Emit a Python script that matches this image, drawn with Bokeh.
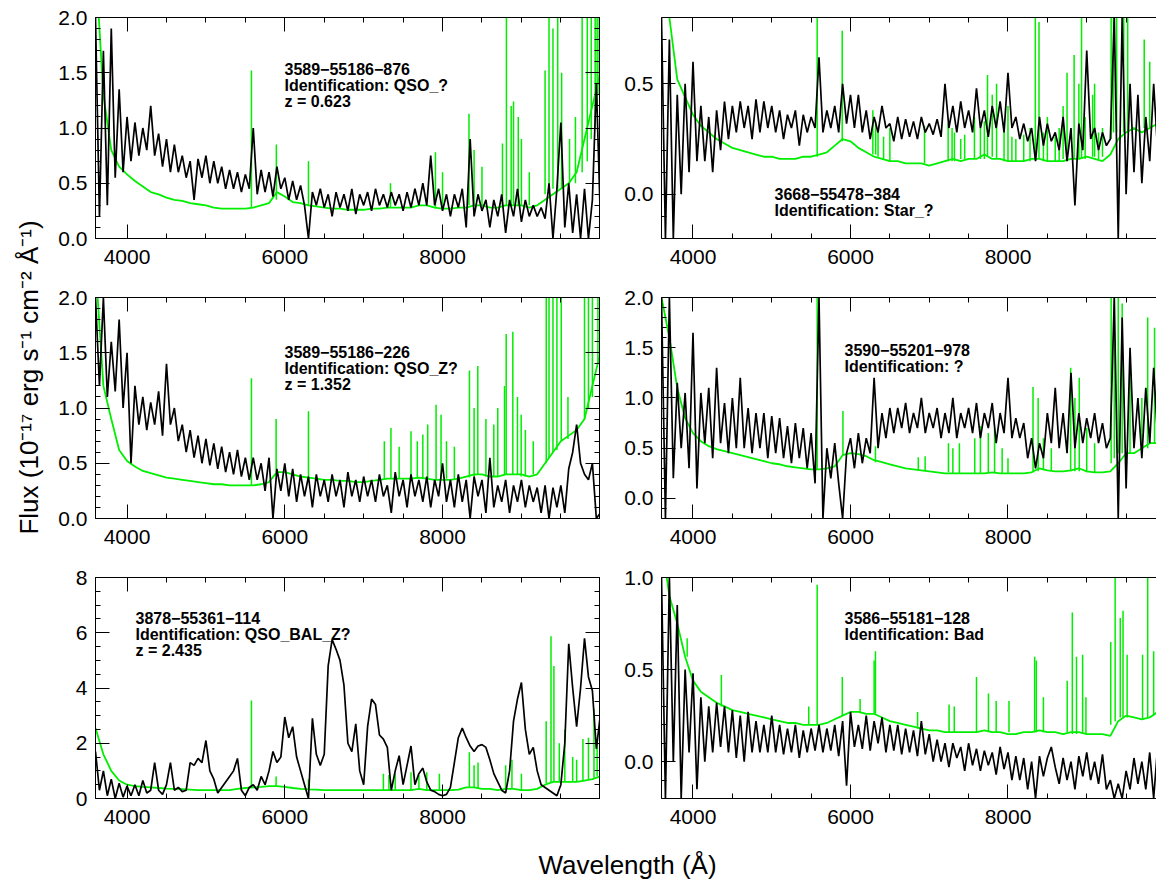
import math
import numpy as np
from bokeh.plotting import figure
from bokeh.models import FixedTicker, LinearAxis, Label, Range1d, PrintfTickFormatter
from bokeh.layouts import row, column
from bokeh.embed import file_html
from bokeh.resources import INLINE

# ---------------- data ----------------
wave = list(range(3600, 10001, 50))       # object spectrum sampling (A)
wave_sky = list(range(3600, 10001, 100))  # sky/noise continuum sampling (A)

x_ticks = [4000, 6000, 8000]
x_tick_labels = ["4000", "6000", "8000"]
x_minor = [4500, 5000, 5500, 6500, 7000, 7500, 8500, 9000, 9500]

# ---- panel 1: 3589-55186-876 ----
tl_flux = [2.0, 0.2, 1.7, 0.3, 1.9, 0.55, 1.35, 0.6, 1.1, 0.7,
           1.05, 0.75, 1.0, 0.8, 1.2, 0.75, 0.95, 0.65, 0.9, 0.6,
           0.85, 0.6, 0.75, 0.55, 0.7, 0.35, 0.72, 0.55, 0.75, 0.5,
           0.7, 0.5, 0.65, 0.45, 0.62, 0.45, 0.6, 0.42, 0.58, 0.45,
           1.0, 0.4, 0.62, 0.42, 0.6, 0.38, 0.65, 0.45, 0.55, 0.35,
           0.52, 0.35, 0.48, 0.3, 0.0, 0.42, 0.3, 0.45, 0.28, 0.4,
           0.2, 0.42, 0.28, 0.4, 0.25, 0.45, 0.22, 0.4, 0.3, 0.42,
           0.25, 0.45, 0.3, 0.4, 0.28, 0.42, 0.3, 0.4, 0.25, 0.42,
           0.28, 0.45, 0.3, 0.5, 0.3, 0.75, 0.3, 0.45, 0.25, 0.4,
           0.2, 0.4, 0.28, 0.45, 0.1, 0.9, 0.2, 0.4, 0.25, 0.35,
           0.1, 0.35, 0.2, 0.4, 0.05, 0.35, 0.2, 0.45, 0.15, 0.35,
           0.2, 0.3, 0.2, 0.28, 0.18, 0.5, 0.0, 0.45, 1.05, 0.1,
           0.5, 0.05, 0.4, 0.0, 0.45, 0.0, 0.35, 1.4, 0.2]
tl_sky = [2.5, 1.3, 0.8, 0.65, 0.58, 0.52, 0.47, 0.42, 0.4, 0.37,
          0.35, 0.34, 0.32, 0.31, 0.3, 0.28, 0.27, 0.27, 0.27, 0.27,
          0.28, 0.3, 0.32, 0.42, 0.38, 0.33, 0.32, 0.3, 0.29, 0.28,
          0.27, 0.27, 0.26, 0.26, 0.26, 0.27, 0.27, 0.28, 0.28, 0.28,
          0.28, 0.3, 0.3, 0.28, 0.27, 0.27, 0.28, 0.28, 0.3, 0.3,
          0.28, 0.28, 0.3, 0.3, 0.3, 0.28, 0.3, 0.35, 0.4, 0.45,
          0.5, 0.6, 0.9, 1.2, 1.5]
tl_line_w = [5577, 5893, 6300, 7340, 7910, 8000, 8335, 8400, 8500, 8760,
             8810, 8870, 8900, 8960, 9000, 9100, 9300, 9350, 9400, 9460,
             9510, 9610, 9685, 9770, 9835, 9885, 9935, 9960, 9985]
tl_line_lo = [0.28, 0.35, 0.30, 0.28, 0.28, 0.27, 0.3, 0.3, 0.3, 0.3,
              0.3, 0.3, 0.3, 0.3, 0.3, 0.3, 0.4, 0.45, 0.45, 0.45,
              0.45, 0.5, 0.5, 0.6, 0.7, 0.9, 1.0, 1.2, 1.3]
tl_line_hi = [1.52, 0.85, 0.70, 0.5, 0.78, 0.6, 1.13, 0.8, 0.65, 0.86,
              2.0, 1.2, 1.24, 1.1, 0.9, 0.6, 1.52, 2.0, 1.9, 2.0,
              1.5, 0.9, 1.1, 2.0, 2.0, 2.0, 2.0, 2.0, 2.0]

# ---- panel 2: 3668-55478-384 ----
tr_flux = [0.8, -0.2, 0.7, -0.2, 0.45, 0.0, 0.5, 0.1, 0.6, 0.15,
           0.4, 0.15, 0.35, 0.1, 0.38, 0.2, 0.42, 0.25, 0.4, 0.28,
           0.42, 0.3, 0.4, 0.25, 0.43, 0.28, 0.42, 0.3, 0.4, 0.28,
           0.38, 0.25, 0.36, 0.3, 0.38, 0.22, 0.36, 0.28, 0.35, 0.3,
           0.62, 0.28, 0.38, 0.3, 0.4, 0.28, 0.5, 0.32, 0.45, 0.3,
           0.45, 0.28, 0.38, 0.25, 0.35, 0.28, 0.4, 0.3, 0.32, 0.24,
           0.35, 0.25, 0.34, 0.26, 0.33, 0.25, 0.35, 0.28, 0.32, 0.27,
           0.34, 0.26, 0.5, 0.3, 0.4, 0.28, 0.42, 0.3, 0.38, 0.28,
           0.48, 0.3, 0.38, 0.26, 0.4, 0.3, 0.42, 0.28, 0.55, 0.3,
           0.35, 0.25, 0.32, 0.24, 0.3, 0.15, 0.35, 0.22, 0.32, 0.24,
           0.28, 0.2, 0.35, 0.15, 0.3, -0.05, 0.32, 0.2, 0.65, 0.25,
           0.3, 0.2, 0.28, 0.22, 0.25, 0.8, -0.2, 0.8, 0.0, 0.5,
           0.1, 0.45, 0.05, 0.35, 0.15, 0.5, 0.2, 0.6, 0.3]
tr_sky = [0.95, 0.8, 0.52, 0.44, 0.36, 0.31, 0.28, 0.25, 0.23, 0.21,
          0.2, 0.19, 0.18, 0.17, 0.17, 0.16, 0.16, 0.16, 0.17, 0.17,
          0.18, 0.19, 0.22, 0.25, 0.24, 0.21, 0.19, 0.17, 0.16, 0.15,
          0.15, 0.14, 0.14, 0.14, 0.13, 0.14, 0.15, 0.16, 0.15, 0.16,
          0.16, 0.18, 0.16, 0.16, 0.15, 0.15, 0.15, 0.16, 0.16, 0.15,
          0.15, 0.15, 0.16, 0.16, 0.17, 0.16, 0.15, 0.18, 0.25, 0.28,
          0.3, 0.28, 0.3, 0.32, 0.35]
tr_line_w = [5577, 5895, 6284, 6320, 6500, 6940, 7240, 7290, 7574, 7740,
             7800, 7855, 8000, 8347, 8394, 8500, 8750, 8840, 8934, 9075,
             9100, 9310, 9340, 9380, 9470, 9520, 9730, 9800,
             6350, 6420, 7320, 7400, 7450, 7650, 7700, 7950, 8050, 8100,
             8200, 8280, 8450, 8600, 8650, 8700, 8900, 8980, 9150, 9200]
tr_line_lo = [0.17, 0.24, 0.18, 0.18, 0.15, 0.14, 0.15, 0.15, 0.16, 0.17,
              0.17, 0.16, 0.15, 0.16, 0.16, 0.15, 0.16, 0.16, 0.16, 0.17,
              0.17, 0.25, 0.28, 0.28, 0.28, 0.28, 0.3, 0.3,
              0.17, 0.16, 0.15, 0.16, 0.16, 0.16, 0.16, 0.15, 0.15, 0.15,
              0.15, 0.15, 0.15, 0.15, 0.15, 0.16, 0.16, 0.16, 0.16, 0.17]
tr_line_hi = [0.85, 0.74, 0.38, 0.33, 0.3, 0.31, 0.32, 0.3, 0.35, 0.54,
              0.45, 0.5, 0.4, 0.8, 0.78, 0.35, 0.55, 0.63, 0.85, 0.45,
              0.5, 0.85, 0.85, 0.85, 0.85, 0.8, 0.7, 0.6,
              0.3, 0.26, 0.28, 0.25, 0.27, 0.3, 0.33, 0.3, 0.26, 0.25,
              0.27, 0.3, 0.28, 0.26, 0.3, 0.4, 0.5, 0.35, 0.28, 0.3]

# ---- panel 3: 3589-55186-226 ----
ml_flux = [2.0, 1.2, 2.0, 1.1, 1.6, 1.15, 1.8, 1.0, 1.5, 0.5,
           1.2, 0.85, 1.1, 0.8, 1.05, 0.85, 1.15, 0.75, 1.4, 0.85,
           1.0, 0.7, 0.85, 0.6, 0.8, 0.55, 0.75, 0.5, 0.72, 0.48,
           0.68, 0.45, 0.65, 0.42, 0.6, 0.4, 0.62, 0.38, 0.55, 0.35,
           0.55, 0.35, 0.5, 0.25, 0.55, 0.0, 0.45, 0.25, 0.5, 0.2,
           0.45, 0.15, 0.4, 0.2, 0.38, 0.1, 0.4, 0.2, 0.35, 0.15,
           0.4, 0.2, 0.35, 0.1, 0.42, 0.2, 0.35, 0.15, 0.38, 0.2,
           0.35, 0.15, 0.4, 0.2, 0.3, 0.05, 0.42, 0.2, 0.35, 0.1,
           0.4, 0.2, 0.35, 0.15, 0.38, 0.1, 0.35, 0.2, 0.5, 0.15,
           0.35, 0.1, 0.4, 0.15, 0.35, 0.0, 0.38, 0.2, 0.35, 0.05,
           0.55, 0.1, 0.3, 0.15, 0.35, 0.05, 0.3, 0.15, 0.35, 0.1,
           0.3, 0.15, 0.28, 0.05, 0.3, 0.0, 0.28, 0.1, 0.3, 0.05,
           0.45, 0.6, 0.85, 0.5, 0.4, 0.35, 0.5, 0.0, 0.05]
ml_sky = [2.3, 1.2, 0.9, 0.62, 0.52, 0.47, 0.43, 0.41, 0.39, 0.37,
          0.36, 0.35, 0.34, 0.33, 0.32, 0.31, 0.31, 0.3, 0.3, 0.3,
          0.3, 0.31, 0.33, 0.42, 0.42, 0.4, 0.38, 0.37, 0.36, 0.35,
          0.35, 0.34, 0.34, 0.33, 0.33, 0.34, 0.35, 0.36, 0.36, 0.36,
          0.36, 0.37, 0.36, 0.35, 0.35, 0.35, 0.36, 0.38, 0.4, 0.4,
          0.38, 0.38, 0.4, 0.4, 0.4, 0.38, 0.4, 0.5, 0.6, 0.7,
          0.75, 0.8, 0.9, 1.2, 1.5]
ml_line_w = [5577, 5890, 6300, 7262, 7346, 7600, 7750, 7812, 7918, 7981,
             8341, 8400, 8447, 8786, 8807, 8891, 8997, 9315, 9350, 9400,
             9450, 9505, 9590, 9800, 9850, 9900, 9970,
             7450, 7680, 8050, 8150, 8550, 8650, 8700, 8950, 9050, 9150]
ml_line_lo = [0.3, 0.42, 0.38, 0.36, 0.36, 0.36, 0.36, 0.36, 0.35, 0.35,
              0.37, 0.38, 0.4, 0.4, 0.4, 0.4, 0.38, 0.5, 0.55, 0.6,
              0.62, 0.7, 0.72, 0.9, 1.0, 1.1, 1.4,
              0.36, 0.36, 0.36, 0.36, 0.38, 0.38, 0.38, 0.4, 0.38, 0.4]
ml_line_hi = [1.27, 0.9, 0.97, 0.7, 0.82, 0.79, 0.76, 0.85, 1.03, 0.94,
              1.34, 1.0, 1.38, 1.2, 1.67, 1.69, 0.94, 2.0, 2.0, 2.0,
              2.0, 2.0, 1.1, 2.0, 2.0, 2.0, 2.0,
              0.65, 0.7, 0.7, 0.65, 0.9, 0.85, 1.0, 1.1, 0.8, 0.7]

# ---- panel 4: 3590-55201-978 ----
mr_flux = [2.0, -0.2, 2.0, 0.2, 1.15, 0.5, 1.05, 0.3, 1.65, 0.1,
           1.05, 0.55, 1.1, 0.4, 1.3, 0.55, 0.95, 0.45, 1.0, 0.5,
           1.2, 0.5, 0.9, 0.45, 0.85, 0.5, 0.85, 0.4, 0.82, 0.45,
           0.8, 0.4, 0.72, 0.35, 0.75, 0.4, 0.7, 0.3, 0.65, 0.15,
           2.0, -0.2, 0.5, 0.2, 0.55, 0.15, -0.2, 0.45, 0.6, 0.3,
           0.65, 0.35, 0.6, 0.45, 1.2, 0.5, 0.85, 0.6, 0.9, 0.65,
           0.9, 0.7, 0.95, 0.65, 0.85, 0.7, 1.0, 0.65, 0.85, 0.7,
           0.9, 0.6, 0.85, 0.65, 1.0, 0.6, 0.85, 0.7, 0.9, 0.65,
           0.95, 0.6, 0.85, 0.7, 0.95, 0.55, 0.85, 0.65, 1.2, 0.6,
           0.8, 0.6, 0.75, 0.4, 0.6, 0.3, 0.55, 0.4, 0.85, 0.55,
           1.1, 0.5, 0.85, 0.45, 1.25, 0.5, 0.85, 0.55, 0.8, 0.6,
           0.85, 0.55, 0.75, 0.5, 0.6, 2.0, -0.2, 1.8, 0.1, 1.5,
           0.5, 1.0, 0.4, 1.1, 0.55, 1.3, 0.6, 1.2, 0.7]
mr_sky = [2.0, 1.6, 1.1, 0.8, 0.65, 0.57, 0.52, 0.49, 0.47, 0.45,
          0.43, 0.41, 0.39, 0.37, 0.35, 0.34, 0.32, 0.31, 0.3, 0.29,
          0.29, 0.3, 0.32, 0.43, 0.45, 0.44, 0.42, 0.38, 0.36, 0.34,
          0.32, 0.3, 0.29, 0.28, 0.27, 0.26, 0.25, 0.25, 0.25, 0.25,
          0.25, 0.25, 0.26, 0.25, 0.25, 0.25, 0.25, 0.26, 0.3, 0.28,
          0.27, 0.27, 0.28, 0.3, 0.27, 0.26, 0.26, 0.27, 0.35, 0.45,
          0.45, 0.5, 0.55, 0.55, 0.6]
mr_line_w = [5577, 5904, 6317, 6861, 6948, 7244, 7300, 7383, 7578, 7650,
             7750, 7830, 7926, 8000, 8318, 8383, 8450, 8550, 8796, 8850,
             8905, 9000, 9100, 9310, 9350, 9400, 9450, 9550, 9700, 9774, 9861]
mr_line_lo = [0.29, 0.43, 0.36, 0.28, 0.28, 0.26, 0.25, 0.25, 0.25, 0.25,
              0.25, 0.25, 0.25, 0.25, 0.26, 0.27, 0.28, 0.28, 0.27, 0.27,
              0.27, 0.26, 0.26, 0.35, 0.4, 0.45, 0.45, 0.45, 0.5, 0.5, 0.55]
mr_line_hi = [2.0, 0.87, 0.52, 0.41, 0.42, 0.55, 0.5, 0.55, 0.6, 0.72,
              0.65, 0.7, 0.5, 0.4, 1.11, 1.0, 0.6, 0.5, 1.3, 1.0,
              1.2, 0.7, 0.55, 2.0, 2.0, 2.0, 1.94, 1.4, 1.0, 1.8, 1.7]

# ---- panel 5: 3878-55361-114 ----
bl_flux = [1.7, 0.3, 1.0, 0.1, 0.7, 0.0, 0.55, 0.05, 0.45, 0.1,
           0.5, 0.1, 0.65, 0.2, 0.3, 1.3, 0.3, 0.15, 0.5, 1.3,
           0.3, 0.4, 0.25, 0.3, 1.3, 1.2, 1.45, 1.3, 2.1, 1.0,
           0.7, 0.2, 0.4, 0.6, 0.8, 1.0, 1.45, 0.3, 0.1, 0.4,
           0.5, 0.3, 0.8, 0.5, 1.0, 1.7, 1.3, 1.5, 2.95, 2.2,
           2.6, 1.5, 1.0, 0.5, 0.0, 2.9, 1.6, 1.2, 1.6, 4.8,
           5.75, 5.4, 5.0, 4.1, 2.0, 1.7, 2.7, 1.0, 0.5, 2.6,
           3.6, 3.4, 2.3, 2.15, 1.85, 0.3, 1.0, 1.55, 0.5, 1.2,
           1.9, 0.5, 0.9, 1.1, 0.6, 0.3, 0.25, 0.15, 0.1, 0.15,
           0.4, 1.3, 2.2, 2.55, 2.2, 1.9, 1.7, 1.9, 1.95, 1.85,
           1.4, 0.9, 0.6, 0.3, 0.2, 1.0, 2.8, 3.6, 4.2, 2.5,
           1.6, 1.85, 1.0, 0.5, 0.4, 0.3, 0.2, 0.1, 0.5, 2.0,
           5.6, 4.0, 2.6, 4.0, 5.8, 4.4, 3.9, 1.8, 3.0]
bl_sky = [2.55, 1.6, 1.0, 0.65, 0.5, 0.45, 0.42, 0.4, 0.38, 0.36,
          0.35, 0.34, 0.32, 0.3, 0.3, 0.3, 0.3, 0.3, 0.35, 0.38,
          0.4, 0.42, 0.45, 0.45, 0.42, 0.38, 0.35, 0.33, 0.32, 0.3,
          0.3, 0.3, 0.3, 0.3, 0.3, 0.3, 0.3, 0.3, 0.3, 0.3,
          0.3, 0.35, 0.3, 0.3, 0.3, 0.3, 0.32, 0.4, 0.4, 0.35,
          0.35, 0.3, 0.35, 0.35, 0.3, 0.3, 0.35, 0.5, 0.6, 0.6,
          0.6, 0.6, 0.65, 0.7, 0.8]
bl_line_w = [5577, 5890, 6300, 7250, 7320, 7400, 7600, 7700, 7800, 7960,
             8340, 8400, 8450, 8800, 8880, 9000, 9314, 9375, 9412, 9480,
             9550, 9650, 9700, 9780, 9850, 9920, 9960]
bl_line_lo = [0.4, 0.45, 0.33, 0.3, 0.3, 0.3, 0.3, 0.35, 0.3, 0.3,
              0.4, 0.4, 0.38, 0.35, 0.35, 0.3, 0.55, 0.58, 0.6, 0.6,
              0.6, 0.6, 0.62, 0.65, 0.7, 0.75, 0.8]
bl_line_hi = [3.55, 0.8, 0.7, 0.9, 0.85, 0.9, 0.95, 0.85, 0.95, 0.9,
              1.67, 1.2, 1.3, 1.2, 1.4, 0.9, 2.8, 5.87, 4.8, 2.0,
              2.5, 1.5, 1.4, 2.15, 2.2, 3.25, 2.0]

# ---- panel 6: 3586-55181-128 ----
br_flux = [1.0, -0.2, 1.0, 0.0, 0.85, -0.2, 0.5, 0.05, 0.48, -0.15,
           0.35, 0.0, 0.3, 0.05, 0.32, 0.08, 0.3, 0.05, 0.28, 0.02,
           0.25, 0.0, 0.27, 0.05, 0.22, 0.05, 0.2, 0.05, 0.25, 0.05,
           0.2, 0.04, 0.18, 0.05, 0.2, 0.02, 0.17, 0.05, 0.18, 0.06,
           0.2, 0.05, 0.18, 0.06, 0.2, 0.03, 0.22, -0.13, 0.27, 0.08,
           0.2, 0.07, 0.25, 0.06, 0.22, 0.1, 0.24, 0.05, 0.2, 0.06,
           0.2, 0.04, 0.18, 0.05, 0.17, 0.03, 0.22, 0.04, 0.15, 0.0,
           0.12, 0.0, 0.1, -0.03, 0.1, 0.02, 0.08, -0.05, 0.1, -0.02,
           0.07, -0.05, 0.06, -0.02, 0.05, -0.07, 0.08, -0.04, 0.05, -0.1,
           0.03, -0.1, 0.02, -0.15, 0.0, -0.2, 0.03, -0.08, 0.02, 0.08,
           -0.03, -0.12, 0.02, -0.1, 0.0, -0.15, 0.03, -0.08, 0.05, -0.1,
           0.0, -0.12, 0.04, -0.15, -0.1, -0.2, -0.12, -0.2, -0.05, -0.15,
           0.02, -0.12, 0.0, -0.15, 0.05, -0.2, 0.08, -0.1, 0.0]
br_sky = [1.2, 0.9, 0.75, 0.57, 0.44, 0.38, 0.35, 0.32, 0.3, 0.28,
          0.27, 0.26, 0.25, 0.24, 0.23, 0.22, 0.21, 0.21, 0.2, 0.2,
          0.2, 0.21, 0.23, 0.25, 0.27, 0.27, 0.26, 0.26, 0.24, 0.22,
          0.21, 0.2, 0.19, 0.18, 0.17, 0.17, 0.16, 0.16, 0.16, 0.16,
          0.16, 0.17, 0.16, 0.16, 0.15, 0.15, 0.16, 0.16, 0.17, 0.16,
          0.16, 0.15, 0.16, 0.16, 0.15, 0.15, 0.15, 0.14, 0.22, 0.25,
          0.24, 0.23, 0.24, 0.27, 0.3]
br_line_w = [3926, 4360, 5470, 5577, 5896, 6122, 6300, 6317, 6852, 7252,
             7318, 7600, 7752, 7850, 8013, 8339, 8360, 8450, 8752, 8817,
             8870, 8948, 8990, 9305, 9361, 9426, 9461, 9513, 9709, 9774, 9850]
br_line_lo = [0.57, 0.3, 0.2, 0.2, 0.25, 0.27, 0.26, 0.26, 0.18, 0.16,
              0.16, 0.16, 0.16, 0.16, 0.16, 0.16, 0.16, 0.16, 0.16, 0.15,
              0.15, 0.15, 0.15, 0.2, 0.22, 0.24, 0.24, 0.24, 0.23, 0.24, 0.25]
br_line_hi = [0.67, 0.47, 0.3, 0.96, 0.46, 0.34, 0.55, 0.6, 0.27, 0.31,
              0.3, 0.46, 0.37, 0.33, 0.33, 0.57, 0.55, 0.35, 0.44, 0.81,
              0.57, 0.58, 0.35, 0.65, 1.0, 0.78, 0.82, 0.58, 0.58, 1.0, 0.6]

# y axis ranges and ticks
tl_yrange, tr_yrange, ml_yrange = (0.0, 2.0), (-0.2, 0.8), (0.0, 2.0)
mr_yrange, bl_yrange, br_yrange = (-0.2, 2.0), (0.0, 8.0), (-0.2, 1.0)
flux_ticks = [0.0, 0.5, 1.0, 1.5, 2.0]
flux_labels = ["0.0", "0.5", "1.0", "1.5", "2.0"]
star_ticks, star_labels = [0.0, 0.5], ["0.0", "0.5"]
bal_ticks, bal_labels = [0, 2, 4, 6, 8], ["0", "2", "4", "6", "8"]
bad_ticks, bad_labels = [0.0, 0.5, 1.0], ["0.0", "0.5", "1.0"]

tl_notes = ["3589\u221255186\u2212876", "Identification: QSO_?", "z = 0.623"]
tr_notes = ["3668\u221255478\u2212384", "Identification: Star_?"]
ml_notes = ["3589\u221255186\u2212226", "Identification: QSO_Z?", "z = 1.352"]
mr_notes = ["3590\u221255201\u2212978", "Identification: ?"]
bl_notes = ["3878\u221255361\u2212114", "Identification: QSO_BAL_Z?", "z = 2.435"]
br_notes = ["3586\u221255181\u2212128", "Identification: Bad"]

X_TITLE = "Wavelength (\u00c5)"
Y_TITLE = "Flux (10\u207b\u00b9\u2077 erg s\u207b\u00b9 cm\u207b\u00b2 \u00c5\u207b\u00b9)"

# ---------------- styling / layout ----------------
FONT = "Liberation Sans"
GREEN = "#00ee00"
YLAB_W = 48
ROW_H, TOP_B, FRAME_H, BOT_B = 280, 17, 221, 42
COLS = [dict(frame_left=95, bl=47, fw=504, br=11, xr=(3600, 9990), mirror=True),
        dict(frame_left=661, bl=51, fw=495, br=0, xr=(3600, 9886), mirror=False)]


def minor_list(lo, hi, step):
    return [round(v, 3) for v in np.arange(lo, hi + step / 2, step)]


def style_axis(ax, ticks, minor, labels, fmt, show):
    ax.ticker = FixedTicker(ticks=ticks, minor_ticks=minor)
    ax.major_tick_in = 14
    ax.major_tick_out = 0
    ax.minor_tick_in = 5
    ax.minor_tick_out = 0
    for a in ("axis_line_color", "major_tick_line_color", "minor_tick_line_color"):
        setattr(ax, a, "black")
    ax.axis_line_width = 1
    ax.major_tick_line_width = 1
    ax.minor_tick_line_width = 1
    ax.axis_label = None
    if show:
        ax.formatter = PrintfTickFormatter(format=fmt)
        ax.major_label_overrides = {t: l for t, l in zip(ticks, labels)}
        ax.major_label_text_font = FONT
        ax.major_label_text_font_size = "21px"
        ax.major_label_text_color = "black"
    else:
        ax.major_label_overrides = {t: "" for t in ticks}
        ax.major_label_text_font_size = "0px"
        ax.major_label_standoff = 0


def make_panel(ci, ri, flux, sky, lw, llo, lhi, yr, yt, ylab, yfmt, ystep, notes, note_x, note_y0):
    c = COLS[ci]
    xr = c["xr"]
    p = figure(width=c["bl"] + c["fw"] + c["br"], height=ROW_H, title=None,
               x_range=Range1d(*xr), y_range=Range1d(*yr),
               toolbar_location=None, output_backend="svg",
               min_border_left=c["bl"], min_border_right=c["br"],
               min_border_top=TOP_B, min_border_bottom=BOT_B)
    p.xgrid.visible = False
    p.ygrid.visible = False
    p.background_fill_color = "white"
    p.border_fill_color = "white"
    if c["mirror"]:
        p.outline_line_color = "black"
        p.outline_line_width = 1
        p.outline_line_alpha = 1
    else:
        p.outline_line_color = None

    ymin = minor_list(yr[0], yr[1], ystep)
    style_axis(p.xaxis[0], x_ticks, x_minor, x_tick_labels, "%d", True)
    p.xaxis[0].major_label_standoff = 11
    style_axis(p.yaxis[0], yt, ymin, ylab, yfmt, True)
    p.yaxis[0].major_label_standoff = 8
    top = LinearAxis()
    p.add_layout(top, "above")
    style_axis(top, x_ticks, x_minor, x_tick_labels, "%d", False)
    if c["mirror"]:
        rgt = LinearAxis()
        p.add_layout(rgt, "right")
        style_axis(rgt, yt, ymin, ylab, yfmt, False)

    n = min(len(lw), len(llo), len(lhi))
    p.line(wave_sky[:len(sky)], sky, line_color=GREEN, line_width=1.8)
    p.segment(x0=lw[:n], y0=llo[:n], x1=lw[:n], y1=lhi[:n], line_color=GREEN, line_width=1.5)
    m = min(len(wave), len(flux))
    p.line(wave[:m], flux[:m], line_color="black", line_width=1.7)

    frame_top = TOP_B + ROW_H * ri
    for k, t in enumerate(notes):
        py = note_y0 + 16.5 * k
        xd = xr[0] + (note_x - c["frame_left"]) / c["fw"] * (xr[1] - xr[0])
        yd = yr[1] - (py - frame_top) / FRAME_H * (yr[1] - yr[0])
        p.add_layout(Label(x=xd, y=yd, text=t, text_font=FONT, text_font_size="16px",
                           text_font_style="bold", text_color="black",
                           text_baseline="middle", text_align="left"))
    return p


tl = make_panel(0, 0, tl_flux, tl_sky, tl_line_w, tl_line_lo, tl_line_hi, tl_yrange,
                flux_ticks, flux_labels, "%.1f", 0.1, tl_notes, 284, 68)
tr = make_panel(1, 0, tr_flux, tr_sky, tr_line_w, tr_line_lo, tr_line_hi, tr_yrange,
                star_ticks, star_labels, "%.1f", 0.1, tr_notes, 774, 193)
ml = make_panel(0, 1, ml_flux, ml_sky, ml_line_w, ml_line_lo, ml_line_hi, ml_yrange,
                flux_ticks, flux_labels, "%.1f", 0.1, ml_notes, 284, 351)
mr = make_panel(1, 1, mr_flux, mr_sky, mr_line_w, mr_line_lo, mr_line_hi, mr_yrange,
                flux_ticks, flux_labels, "%.1f", 0.1, mr_notes, 844, 349)
bl = make_panel(0, 2, bl_flux, bl_sky, bl_line_w, bl_line_lo, bl_line_hi, bl_yrange,
                bal_ticks, bal_labels, "%d", 0.5, bl_notes, 135, 617)
br = make_panel(1, 2, br_flux, br_sky, br_line_w, br_line_lo, br_line_hi, br_yrange,
                bad_ticks, bad_labels, "%.1f", 0.1, br_notes, 844, 617)


def blank(w, h):
    f = figure(width=w, height=h, title=None, x_range=Range1d(0, w), y_range=Range1d(0, h),
               toolbar_location=None, output_backend="svg", min_border=0,
               min_border_left=0, min_border_right=0, min_border_top=0, min_border_bottom=0,
               x_axis_location=None, y_axis_location=None)
    f.outline_line_color = None
    f.background_fill_color = "white"
    f.border_fill_color = "white"
    f.grid.visible = False
    f.grid.grid_line_color = None
    return f


PANELS_H = 3 * ROW_H
ylab_fig = blank(YLAB_W, PANELS_H)
ylab_fig.add_layout(Label(x=28, y=PANELS_H - 377, text=Y_TITLE, angle=math.pi / 2,
                          text_align="center", text_baseline="middle",
                          text_font=FONT, text_font_size="26px", text_color="black"))

total_w = YLAB_W + sum(c["bl"] + c["fw"] + c["br"] for c in COLS)
XLAB_H = 40
xlab_fig = blank(total_w, XLAB_H)
xlab_fig.add_layout(Label(x=627, y=XLAB_H - (864 - PANELS_H), text=X_TITLE,
                          text_align="center", text_baseline="middle", text_font=FONT,
                          text_font_size="26px", text_color="black"))

panels = column(row(tl, tr), row(ml, mr), row(bl, br))
layout = column(row(ylab_fig, panels), xlab_fig)

open("out.html", "w").write(file_html(layout, INLINE))
